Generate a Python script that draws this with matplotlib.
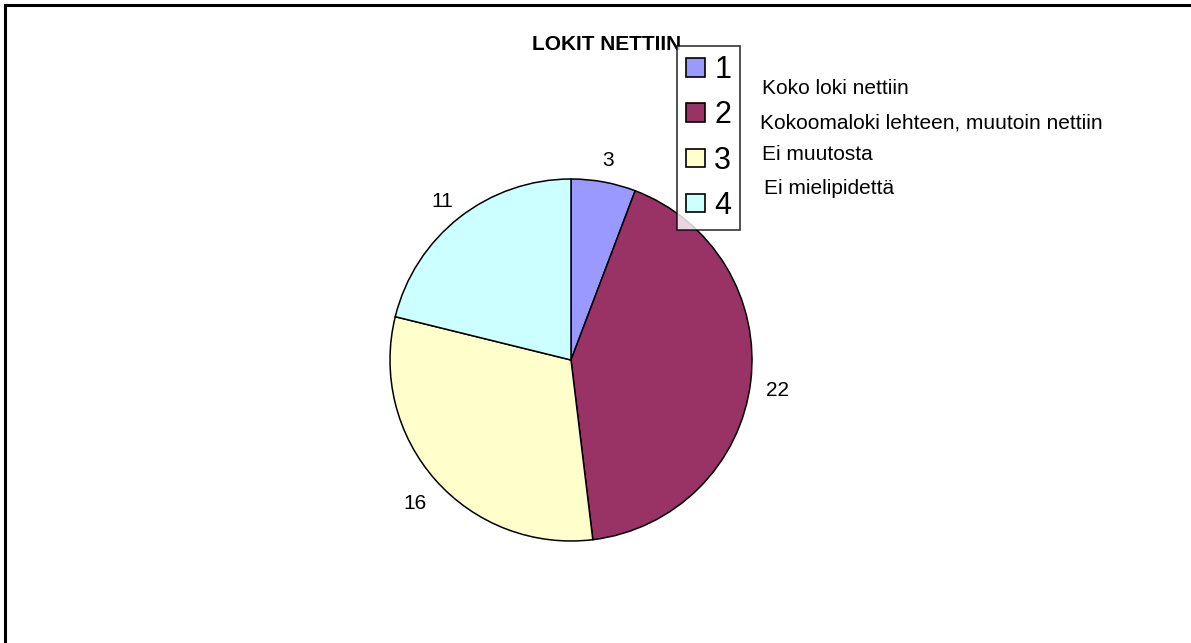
import matplotlib.pyplot as plt
from matplotlib.lines import Line2D

plt.rcParams['font.family'] = ['Liberation Sans', 'DejaVu Sans']

title = "LOKIT NETTIIN"
keys = ["1", "2", "3", "4"]
answers = ["Koko loki nettiin",
           "Kokoomaloki lehteen, muutoin nettiin",
           "Ei muutosta",
           "Ei mielipidettä"]
counts = [3, 22, 16, 11]
colors = ['#9999FF', '#993366', '#FFFFCC', '#CCFFFF']

W, H = 1191, 643
fig = plt.figure(figsize=(W / 100, H / 100), dpi=100)
ax = fig.add_axes([0, 0, 1, 1])

wedges, texts = ax.pie(counts, colors=colors, labels=[str(c) for c in counts],
                       startangle=90, counterclock=False,
                       center=(571, H - 360), radius=181, labeldistance=1.15,
                       wedgeprops=dict(edgecolor='black', linewidth=1.1),
                       textprops=dict(fontsize=15), frame=True)
for t in texts:
    x, y = t.get_position()
    t.set_position((x, y - 5))
    t.set_ha('center')
    t.set_va('center')
ax.set_xlim(0, W)
ax.set_ylim(0, H)
ax.set_aspect('equal')
ax.axis('off')

# outer frame: only top and left edges show
ax.add_line(Line2D([5, 5], [0, H - 4.5], color='black', linewidth=2.2))
ax.add_line(Line2D([5, W], [H - 4.5, H - 4.5], color='black', linewidth=2.2))

ax.text(607, H - 45, title, ha='center', va='center',
        fontsize=15, fontweight='bold')

leg = ax.legend(wedges, keys, loc='upper left',
                bbox_to_anchor=(677 / W, 1 - 46 / H),
                bbox_transform=fig.transFigure,
                fontsize=22, frameon=True, fancybox=False,
                handlelength=0.62, handleheight=0.55, handletextpad=0.3,
                labelspacing=0.5, borderpad=0.3, borderaxespad=0)
leg.get_frame().set_edgecolor('black')
leg.get_frame().set_linewidth(1.2)
for h in leg.legend_handles:
    h.set_linewidth(1.2)

text_y = [89, 123, 155, 189]
text_x = [762, 760, 762, 764]
for name, x, y in zip(answers, text_x, text_y):
    ax.text(x, H - y, name, ha='left', va='center', fontsize=15)

fig.savefig('out.png', dpi=100)
